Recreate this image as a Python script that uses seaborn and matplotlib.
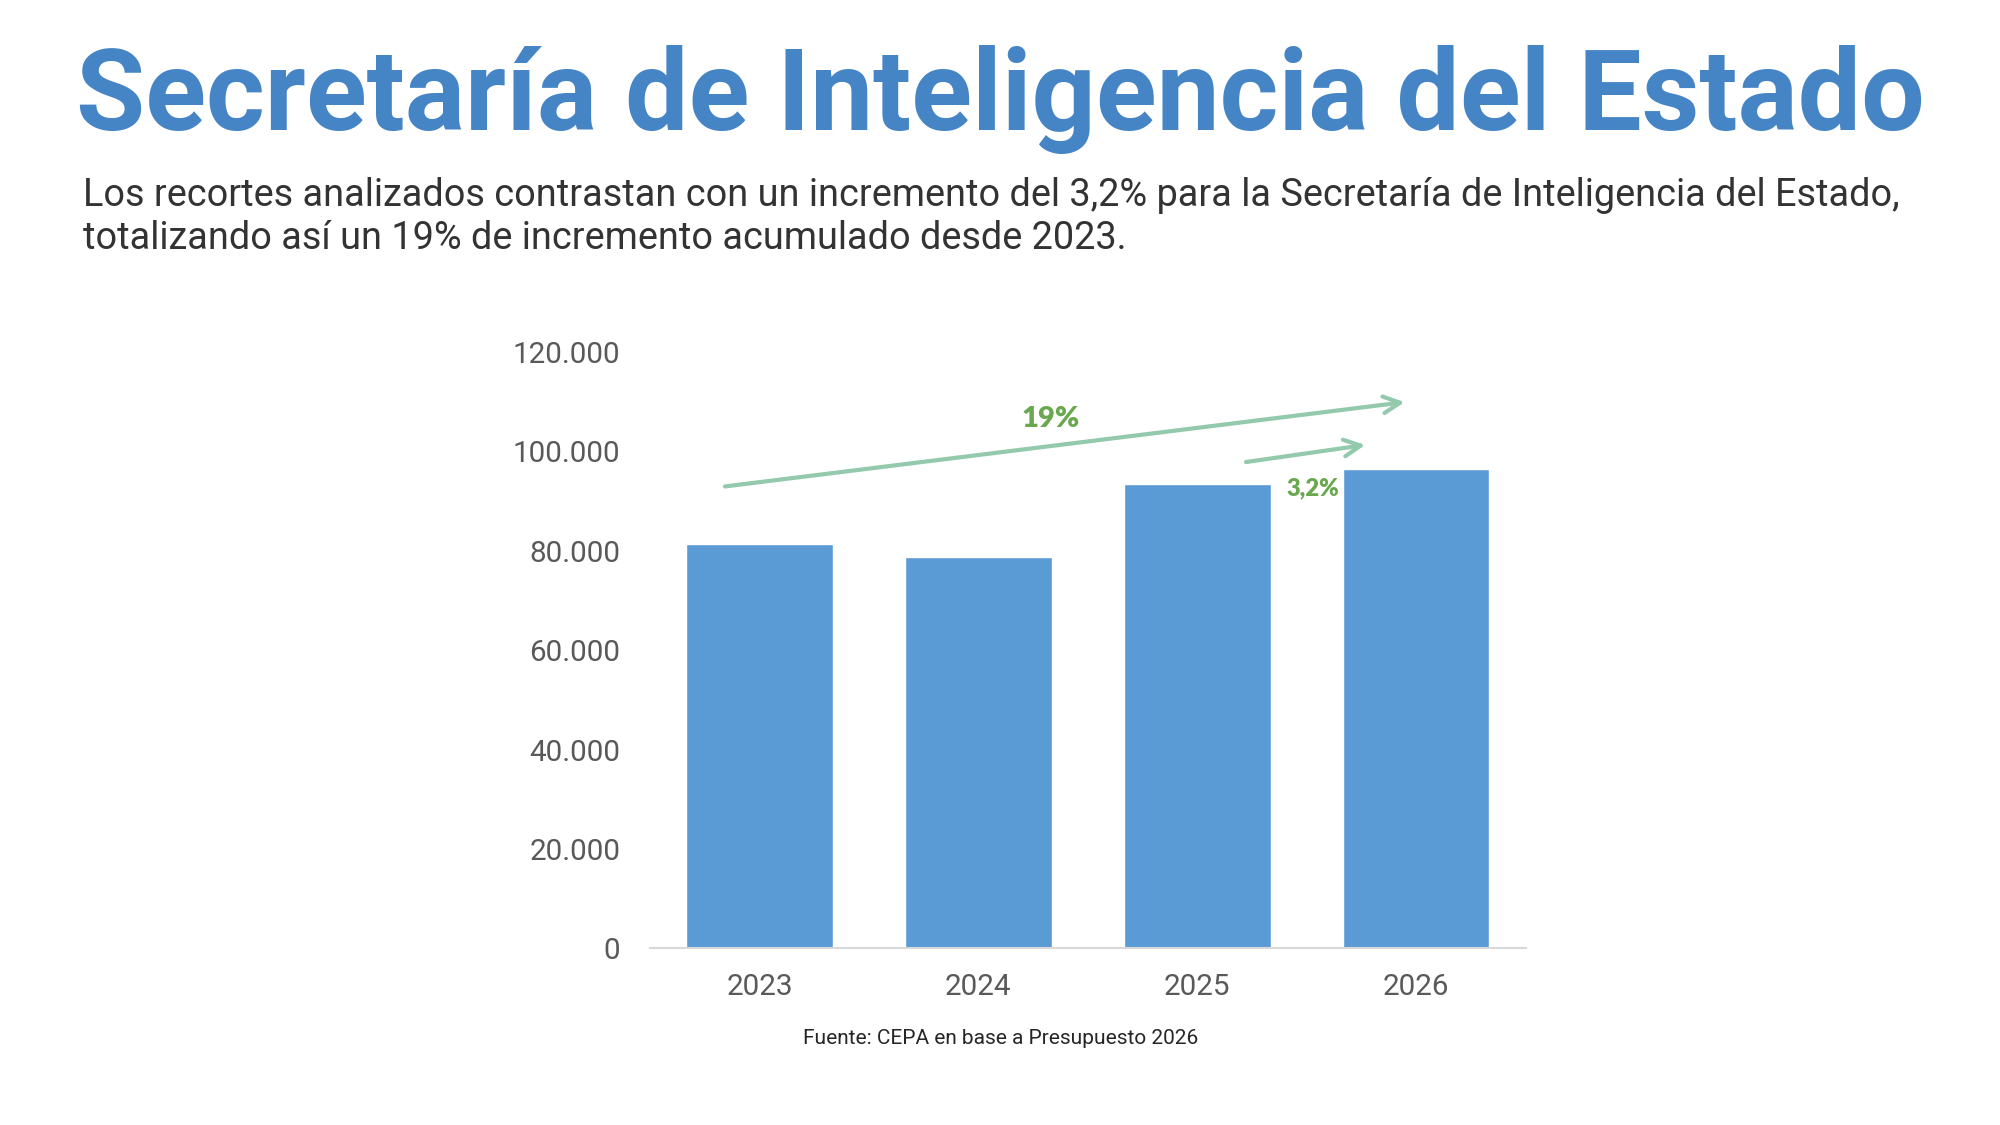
import matplotlib
matplotlib.use("Agg")
import matplotlib.pyplot as plt
import seaborn as sns
import pandas as pd
from matplotlib.ticker import FuncFormatter

# Datos (millones de pesos)
years = ["2023", "2024", "2025", "2026"]
values = [81300, 78800, 93500, 96500]

title = "Secretaría de Inteligencia del Estado"
subtitle = ("Los recortes analizados contrastan con un incremento del 3,2% para la Secretaría de Inteligencia del Estado,\n"
            "totalizando así un 19% de incremento acumulado desde 2023.")
source = "Fuente: CEPA en base a Presupuesto 2026"

sns.set_theme(style="white")
plt.rcParams["font.family"] = ["Roboto", "DejaVu Sans"]

df = pd.DataFrame({"year": years, "value": values})

fig = plt.figure(figsize=(20, 11.25), dpi=100)
ax = fig.add_axes([0.325, 0.157, 0.4378, 0.53])

sns.barplot(data=df, x="year", y="value", color="#5B9BD5", width=0.67,
            saturation=1, ax=ax)

ax.set_xlim(-0.5, 3.5)
ax.set_ylim(0, 120000)
ax.set_yticks(range(0, 120001, 20000))
ax.yaxis.set_major_formatter(FuncFormatter(lambda v, p: f"{int(v):,}".replace(",", ".")))
ax.set_xlabel("")
ax.set_ylabel("")
for s in ["top", "right", "left"]:
    ax.spines[s].set_visible(False)
ax.spines["bottom"].set_color("#D9D9D9")
ax.spines["bottom"].set_linewidth(1.5)
ax.tick_params(axis="both", length=0, labelsize=21.3, colors="#595959")
ax.tick_params(axis="y", pad=21.5)
ax.tick_params(axis="x", pad=18)

# Flechas de variación
arrow_color = "#93C9AD"
ax.annotate("", xy=(2.96, 110000), xytext=(-0.17, 92900),
            arrowprops=dict(arrowstyle="->", color=arrow_color, lw=3,
                            mutation_scale=30), annotation_clip=False)
ax.annotate("", xy=(2.78, 101400), xytext=(2.21, 97800),
            arrowprops=dict(arrowstyle="->", color=arrow_color, lw=3,
                            mutation_scale=30), annotation_clip=False)
ax.text(1.33, 106600, "19%", color="#6AA84F", fontsize=21, fontweight="heavy",
        family="Lato", ha="center", va="center")
ax.text(2.53, 92600, "3,2%", color="#6AA84F", fontsize=17, fontweight="heavy",
        family="Lato", ha="center", va="center")

fig.text(0.5, 0.912, title, color="#4585C6", fontsize=81, fontweight="bold",
         ha="center", va="center")
fig.text(0.0417, 0.807, subtitle, color="#333333", fontsize=27.3,
         ha="left", va="center", linespacing=1.22)
fig.text(0.5005, 0.077, source, color="#262626", fontsize=15,
         ha="center", va="center")

fig.savefig("out.png", dpi=100, facecolor="white")
